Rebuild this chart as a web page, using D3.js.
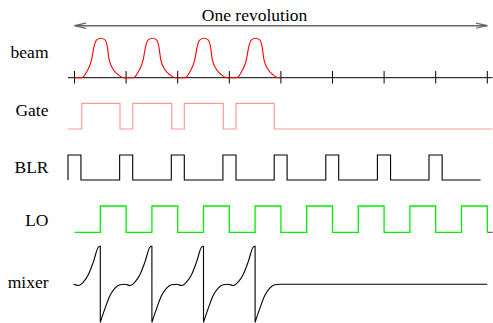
<!DOCTYPE html>
<html>
<head>
<meta charset="utf-8">
<script src="https://cdn.jsdelivr.net/npm/d3@7"></script>
<style>
  body { margin: 0; background: #fff; }
  text { font-family: "Liberation Serif", "Times New Roman", serif; font-size: 17.5px; fill: #000; }
</style>
</head>
<body>
<div id="chart"></div>
<script>

// bucket boundaries (ticks) along one revolution
var buckets = [0, 1, 2, 3, 4, 5, 6, 7, 8];
// buckets holding a bunch
var bunches = [0, 1, 2, 3];

// one bunch shape across a bucket: [fraction of bucket, relative height]
var beamProfile = [[0, 0], [0.14, 0], [0.237, 0.15], [0.33, 0.45], [0.378, 0.79], [0.43, 0.96],
    [0.508, 1], [0.59, 0.96], [0.635, 0.79], [0.673, 0.45], [0.752, 0.21], [0.849, 0.07],
    [0.946, 0], [1, 0]];

// gate open intervals (in buckets)
var gateEdges = [[0.14, 0.882], [1.128, 1.884], [2.128, 2.884], [3.13, 3.872]];

// baseline restorer pulses
var blrPulses = [[-0.126, 0.125], [0.875, 1.128], [1.876, 2.128], [2.876, 3.13],
    [3.87, 4.12], [4.87, 5.12], [5.87, 6.125], [6.87, 7.125]];

// local oscillator high intervals
var loPulses = [[0.5, 1], [1.5, 2], [2.5, 3], [3.5, 4], [4.5, 5], [5.5, 6], [6.5, 7], [7.5, 8]];

// mixer output around a bucket boundary: [offset in buckets, relative level]
var mixerProfile = [[-0.5, -1], [-0.41, -0.64], [-0.31, -0.29], [-0.215, -0.1], [-0.118, -0.01],
    [-0.02, 0], [0.076, -0.03], [0.17, 0.06], [0.27, 0.26], [0.366, 0.59], [0.463, 0.98], [0.5, 1]];

var rowLabels = ["beam", "Gate", "BLR", "LO", "mixer"];
var title = "One revolution";

var width = 493, height = 323;
var tStart = -0.126, tEnd = 8.1;

var svg = d3.select("#chart").append("svg")
    .attr("width", width)
    .attr("height", height);

var x = d3.scaleLinear().domain([0, 8]).range([74.5, 487.3]);

//vertical scales for each trace
var beamY = d3.scaleLinear().domain([0, 1]).range([77.7, 38.3]);
var gateY = d3.scaleLinear().domain([0, 1]).range([129, 103.3]);
var blrY = d3.scaleLinear().domain([0, 1]).range([180, 155]);
var loY = d3.scaleLinear().domain([0, 1]).range([232.3, 206]);
var mixY = d3.scaleLinear().domain([-1, 1]).range([322.3, 246.3]);

var labelY = [58.3, 116, 173.3, 225.7, 288.3];

var straight = d3.line()
    .x(function(d){ return x(d[0]); })
    .y(function(d){ return d[1]; });

//turns a list of [on, off] intervals into a square wave
function steps(pulses, yScale, t0, t1) {
    var pts = [[t0, yScale(0)]];
    pulses.forEach(function(p){
        pts.push([p[0], yScale(0)], [p[0], yScale(1)], [p[1], yScale(1)], [p[1], yScale(0)]);
    });
    pts.push([t1, yScale(0)]);
    return pts;
}

// arrow marker
var defs = svg.append("defs");
["start", "end"].forEach(function(k){
    defs.append("marker")
        .attr("id", "arrow-" + k)
        .attr("viewBox", "0 -4 12 8")
        .attr("refX", 11.5).attr("refY", 0)
        .attr("markerWidth", 12).attr("markerHeight", 8)
        .attr("markerUnits", "userSpaceOnUse")
        .attr("orient", k == "start" ? "auto-start-reverse" : "auto")
        .append("path")
        .attr("d", "M0,-2.6L11.5,0L0,2.6")
        .attr("fill", "none")
        .attr("stroke", "#666")
        .attr("stroke-width", 1.2);
});

svg.append("line")
    .attr("x1", x(0)).attr("x2", x(8))
    .attr("y1", 25.7).attr("y2", 25.7)
    .attr("stroke", "#666")
    .attr("stroke-width", 1.4)
    .attr("marker-start", "url(#arrow-start)")
    .attr("marker-end", "url(#arrow-end)");

//title sits left of the arrow centre, as in the original
svg.append("text")
    .attr("x", x(3.49))
    .attr("y", 20.7)
    .attr("text-anchor", "middle")
    .text(title);

//row labels
svg.selectAll(".label").data(rowLabels).enter()
    .append("text")
    .attr("class", "label")
    .attr("x", 48.5)
    .attr("y", function(d, i){ return labelY[i]; })
    .attr("text-anchor", "end")
    .text(function(d){ return d; });

// beam time axis
svg.append("line")
    .attr("x1", x(tStart)).attr("x2", x(tEnd))
    .attr("y1", beamY(0)).attr("y2", beamY(0))
    .attr("stroke", "#000");

svg.selectAll(".tick").data(buckets).enter()
    .append("line")
    .attr("class", "tick")
    .attr("x1", function(d){ return x(d); })
    .attr("x2", function(d){ return x(d); })
    .attr("y1", 71).attr("y2", 83.5)
    .attr("stroke", "#000");

// bunches
var beamLine = d3.line().curve(d3.curveMonotoneX);
svg.selectAll(".bunch").data(bunches).enter()
    .append("path")
    .attr("class", "bunch")
    .attr("d", function(k){
        return beamLine(beamProfile.map(function(p){ return [x(k + p[0]), beamY(p[1])]; }));
    })
    .attr("fill", "none")
    .attr("stroke", "#ff0000")
    .attr("stroke-width", 1.1);

// gate
svg.append("path")
    .attr("d", straight(steps(gateEdges, gateY, tStart, tEnd)))
    .attr("fill", "none")
    .attr("stroke", "#ff9a9a")
    .attr("stroke-width", 1.2);

// BLR
var blrPts = steps(blrPulses, blrY, tStart, 7.87);
svg.append("path")
    .attr("d", straight(blrPts))
    .attr("fill", "none")
    .attr("stroke", "#000")
    .attr("stroke-width", 1.1);

// LO
svg.append("path")
    .attr("d", straight(steps(loPulses, loY, 0, 8)))
    .attr("fill", "none")
    .attr("stroke", "#00ee00")
    .attr("stroke-width", 1.3);

svg.append("line")
    .attr("x1", x(8)).attr("x2", x(8.1))
    .attr("y1", loY(0)).attr("y2", loY(0))
    .attr("stroke", "#444");

// mixer: curved ramps joined by vertical drops
var mixLine = d3.line().curve(d3.curveMonotoneX);
var segments = [];
segments.push(mixerProfile.filter(function(p){ return p[0] >= -0.02; })
    .map(function(p){ return [p[0], p[1]]; }));
bunches.slice(1).forEach(function(k){
    segments.push(mixerProfile.map(function(p){ return [k + p[0], p[1]]; }));
});
segments.push(mixerProfile.filter(function(p){ return p[0] <= -0.02; })
    .map(function(p){ return [bunches.length + p[0], p[1]]; })
    .concat([[bunches.length + 0.15, 0], [8, 0]]));

var mixPath = segments.map(function(seg, i){
    var d = mixLine(seg.map(function(p){ return [x(p[0]), mixY(p[1])]; }));
    return i == 0 ? d : "L" + d.slice(1);
}).join("");

svg.append("path")
    .attr("d", mixPath)
    .attr("fill", "none")
    .attr("stroke", "#000")
    .attr("stroke-width", 1.1);

</script>
</body>
</html>
